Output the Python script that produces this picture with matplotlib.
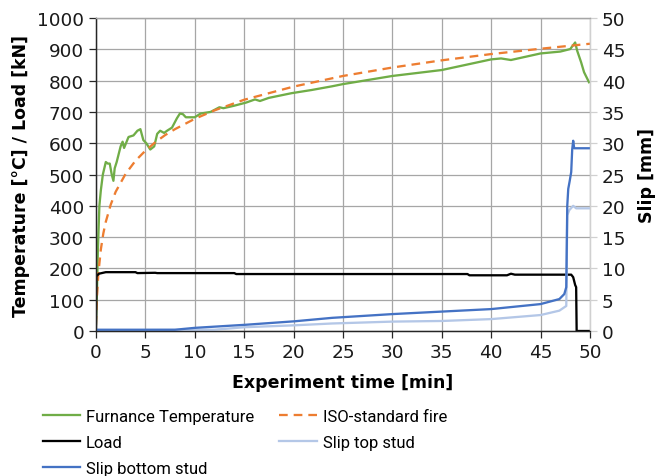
import matplotlib
matplotlib.use("Agg")
import matplotlib.pyplot as plt
from matplotlib.font_manager import FontProperties

plt.rcParams['font.family'] = ['DejaVu Sans']

# Furnace temperature [°C]
furnace_t = [0, 0.1, 0.2, 0.35, 0.5, 0.7, 1.0, 1.2, 1.4, 1.6, 1.77, 1.9, 2.1, 2.5, 2.7, 2.85,
             3.3, 3.8, 4.2, 4.5, 4.8, 5.1, 5.5, 5.9, 6.2, 6.5, 6.9, 7.2, 7.7, 8.2, 8.5, 8.8,
             9.1, 10.0, 10.6, 11.6, 12.5, 12.9, 14.0, 15.2, 16.1, 16.6, 17.5, 19.8, 21.8,
             23.9, 25, 30, 35, 40, 41, 42, 45, 47, 48, 48.5, 48.7, 49.1, 49.4, 49.9]
furnace_T = [20, 120, 260, 400, 450, 500, 540, 535, 535, 500, 480, 520, 540, 590, 605, 585,
             620, 625, 640, 645, 610, 600, 580, 590, 630, 640, 633, 640, 650, 680, 695, 693,
             683, 683, 695, 700, 715, 712, 720, 730, 740, 735, 745, 760, 770,
             782, 789, 815, 834, 868, 871, 866, 887, 893, 901, 922, 896, 859, 827, 795]

# ISO 834 standard fire curve [°C]
iso_t = [0, 0.1, 0.25, 0.5, 0.75, 1, 1.5, 2, 3, 4, 5, 6, 7, 8, 10, 12, 15, 20, 25, 30,
         35, 40, 45, 50]
iso_T = [20, 108, 185, 261, 312, 349, 404, 445, 502, 544, 576, 603, 626, 645, 678, 705,
         739, 781, 815, 842, 865, 885, 902, 918]

# Applied load [kN]
load_t = [0, 0.05, 0.3, 1.0, 4.0, 4.2, 6.0, 6.2, 14.0, 14.2, 37.6, 37.8, 41.6, 42.0, 42.4,
          48.1, 48.3, 48.5, 48.6, 48.65, 50]
load_P = [0, 175, 183, 188, 188, 185, 186, 185, 185, 182, 182, 178, 178, 183, 180,
          180, 172, 147, 140, 0, 0]

# Slip of the bottom stud [mm]
bot_t = [0, 8, 10, 15.2, 20.1, 23.9, 30, 35, 40, 45, 46.9, 47.4, 47.6, 47.7, 47.8, 47.95,
         48.1, 48.2, 48.3, 48.4, 50]
bot_s = [0.2, 0.2, 0.5, 1.0, 1.55, 2.1, 2.7, 3.1, 3.5, 4.3, 5.1, 5.9, 7.0, 20.0, 22.7,
         24.0, 25.4, 29.0, 30.4, 29.2, 29.2]

# Slip of the top stud [mm]
top_t = [0, 12, 15, 20, 23.9, 30, 35, 40, 45, 46.9, 47.6, 47.7, 47.9, 48.3, 48.6, 50]
top_s = [0.1, 0.2, 0.6, 0.9, 1.2, 1.5, 1.6, 1.9, 2.55, 3.25, 4.0, 18.5, 19.3, 20.0, 19.6, 19.6]

x_ticks = list(range(0, 51, 5))
left_ticks = list(range(0, 1001, 100))
right_ticks = list(range(0, 51, 5))

GREEN = '#70ad47'
ORANGE = '#ed7d31'
BLUE = '#4472c4'
LIGHT_BLUE = '#b4c7e7'
GRID = '#a6a6a6'
DARK = '#262626'
LIGHT = '#d0d0d0'
LW = 1.65

tick_font = FontProperties(family='DejaVu Sans', size=13.3)
label_font = FontProperties(family='DejaVu Sans', size=12.5, weight='bold')
legend_font = FontProperties(family='Roboto', size=12)

fig = plt.figure(figsize=(6.57, 4.77), dpi=100)
ax = fig.add_axes([0.146, 0.304, 0.752, 0.656])
ax2 = ax.twinx()

l_furn, = ax.plot(furnace_t, furnace_T, color=GREEN, lw=LW, label='Furnance Temperature')
l_iso, = ax.plot(iso_t, iso_T, color=ORANGE, lw=LW, ls=(0, (3.8, 2.6)), label='ISO-standard fire')
l_load, = ax.plot(load_t, load_P, color='black', lw=LW, label='Load')
l_top, = ax2.plot(top_t, top_s, color=LIGHT_BLUE, lw=LW, label='Slip top stud')
l_bot, = ax2.plot(bot_t, bot_s, color=BLUE, lw=LW, label='Slip bottom stud')

ax.set_xlim(0, 50)
ax.set_ylim(0, 1000)
ax2.set_ylim(0, 50)
ax.set_xticks(x_ticks)
ax.set_yticks(left_ticks)
ax2.set_yticks(right_ticks)

ax.grid(True, color=GRID, lw=0.9)
ax.set_axisbelow(True)
for a in (ax, ax2):
    for s in a.spines.values():
        s.set_linewidth(0.9)
    a.spines['top'].set_color(GRID)
    a.spines['left'].set_color(DARK)
    a.spines['bottom'].set_color(DARK)
    a.spines['right'].set_color(LIGHT)
ax.tick_params(axis='both', colors=DARK, labelcolor='#1a1a1a', length=5, width=0.9,
               direction='out')
ax.tick_params(axis='x', pad=4)
ax2.tick_params(axis='y', colors=LIGHT, labelcolor='#1a1a1a', length=5, width=0.9,
                direction='out')
for lbl in ax.get_xticklabels() + ax.get_yticklabels() + ax2.get_yticklabels():
    lbl.set_fontproperties(tick_font)

ax.set_xlabel('Experiment time [min]', fontproperties=label_font, labelpad=8)
ax.set_ylabel('Temperature [°C] / Load [kN]', fontproperties=label_font, labelpad=5)
ax2.set_ylabel('Slip [mm]', fontproperties=label_font, labelpad=9)

handles = [l_furn, l_load, l_bot, l_iso, l_top]
fig.legend(handles=handles, labels=[h.get_label() for h in handles], ncol=2,
           loc='upper left', bbox_to_anchor=(0.065, 0.141), frameon=False,
           prop=legend_font, handlelength=2.25, handletextpad=0.35,
           columnspacing=1.5, labelspacing=0.66, borderaxespad=0, borderpad=0)

fig.savefig('out.png', dpi=100)
